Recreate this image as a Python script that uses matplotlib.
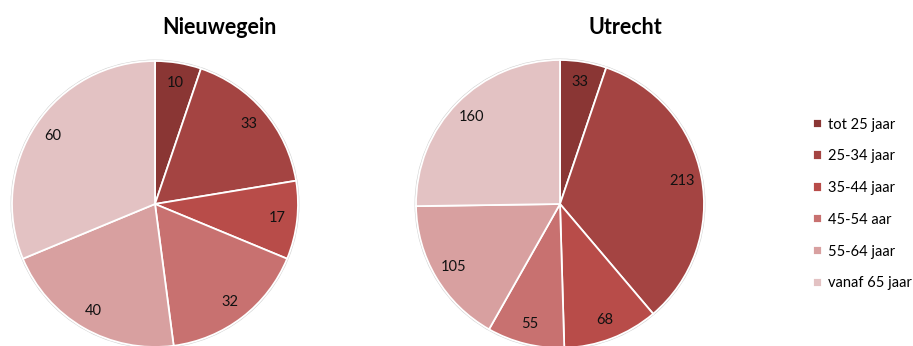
import numpy as np
import matplotlib.pyplot as plt
from matplotlib.patches import Circle

plt.rcParams["font.family"] = ["Lato", "DejaVu Sans"]

categories = ["tot 25 jaar", "25-34 jaar", "35-44 jaar", "45-54 aar", "55-64 jaar", "vanaf 65 jaar"]
nieuwegein = [10, 33, 17, 32, 40, 60]
utrecht = [33, 213, 68, 55, 105, 160]
colors = ["#8a3634", "#a44442", "#b84c49", "#c87170", "#d8a0a0", "#e3c2c3"]

W, H = 913, 346
fig = plt.figure(figsize=(W / 100, H / 100), dpi=100)


def pie_axes(cx, cy, r):
    # pixel centre/radius -> figure axes box
    return fig.add_axes([(cx - r) / W, (H - cy - r) / H, 2 * r / W, 2 * r / H])


def draw_pie(ax, values):
    wedges, texts = ax.pie(
        values,
        colors=colors,
        startangle=90,
        counterclock=False,
        labels=[str(v) for v in values],
        labeldistance=0.86,
        wedgeprops=dict(edgecolor="white", linewidth=1.3),
        textprops=dict(fontsize=10.5, color="#111111", ha="center", va="center"),
    )
    for w in wedges:
        w.set_clip_on(False)
    ax.add_patch(Circle((0, 0), 1.005, fill=False, edgecolor="#d0d0d0", linewidth=1.0, clip_on=False, zorder=0))
    ax.set_xlim(-1, 1)
    ax.set_ylim(-1, 1)
    ax.set_aspect("equal")
    ax.axis("off")
    return wedges


ax1 = pie_axes(155, 204, 143)
wedges = draw_pie(ax1, nieuwegein)
ax2 = pie_axes(560, 204, 144)
draw_pie(ax2, utrecht)

fig.text(219 / W, 1 - 27 / H, "Nieuwegein", ha="center", va="center", fontsize=15.5, fontweight="bold")
fig.text(625 / W, 1 - 27 / H, "Utrecht", ha="center", va="center", fontsize=15.5, fontweight="bold")

fig.legend(
    wedges,
    categories,
    loc="center left",
    bbox_to_anchor=(806 / W, 1 - 204 / H),
    frameon=False,
    fontsize=10.5,
    handlelength=0.62,
    handleheight=0.62,
    handletextpad=0.42,
    labelspacing=1.22,
    borderpad=0,
)

fig.savefig("out.png", dpi=100)
